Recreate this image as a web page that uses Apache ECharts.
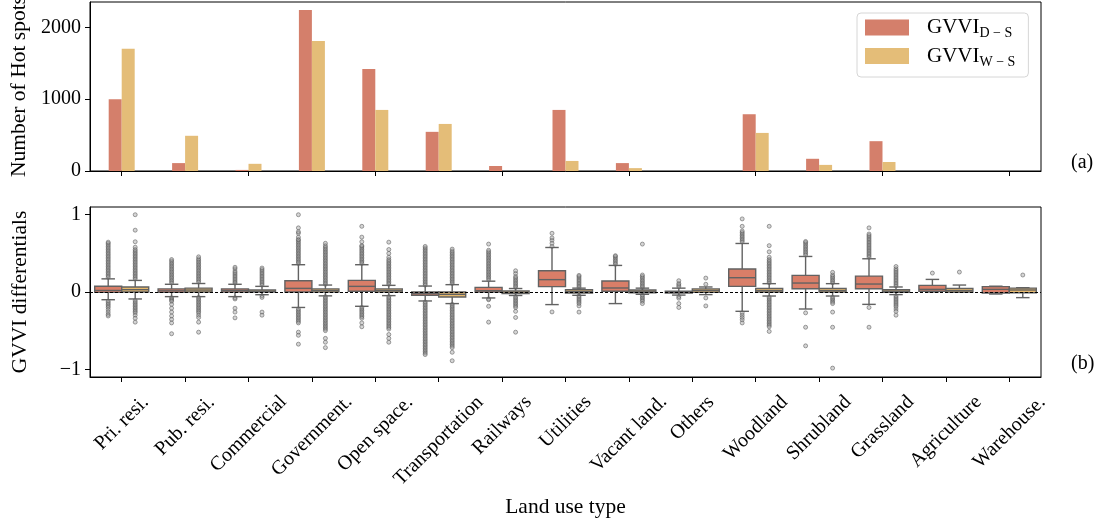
<!DOCTYPE html>
<html>
<head>
<meta charset="utf-8">
<script src="https://cdn.jsdelivr.net/npm/echarts@6/dist/echarts.min.js"></script>
<style>
    html, body { margin: 0; padding: 0; background: #fff; }
    #chart { width: 1103px; height: 524px; }
</style>
</head>
<body>
<div id="chart"></div>
<script>
const categories = ["Pri. resi.", "Pub. resi.", "Commercial", "Government.", "Open space.", "Transportation", "Railways", "Utilities", "Vacant land.", "Others", "Woodland", "Shrubland", "Grassland", "Agriculture", "Warehouse."]

// (a) number of hot spots
const hotSpotDS = [1000, 110, 15, 2240, 1420, 545, 70, 850, 110, 0, 790, 170, 415, 0, 0]
const hotSpotWS = [1700, 490, 100, 1810, 850, 655, 0, 140, 40, 0, 530, 85, 125, 0, 0]
const hotTicks = [0, 1000, 2000]

// (b) box stats: [lower whisker, Q1, median, Q3, upper whisker]
const boxDS = [
    [-0.10, -0.005, 0.02, 0.075, 0.17],
    [-0.06, -0.005, 0.015, 0.04, 0.10],
    [-0.06, 0.0, 0.02, 0.04, 0.10],
    [-0.20, 0.0, 0.047, 0.146, 0.353],
    [-0.185, 0.01, 0.073, 0.15, 0.353],
    [-0.116, -0.043, -0.02, 0.0, 0.077],
    [-0.077, 0.0, 0.017, 0.06, 0.14],
    [-0.163, 0.069, 0.16, 0.275, 0.576],
    [-0.15, 0.009, 0.052, 0.142, 0.344],
    [-0.04, -0.013, 0.0, 0.009, 0.05],
    [-0.25, 0.073, 0.185, 0.297, 0.628],
    [-0.22, 0.043, 0.116, 0.215, 0.46],
    [-0.16, 0.043, 0.103, 0.206, 0.43],
    [0.0, 0.009, 0.034, 0.086, 0.163],
    [-0.026, -0.012, 0.034, 0.069, 0.075],
]
const boxWS = [
    [-0.09, 0.0, 0.03, 0.065, 0.15],
    [-0.06, 0.0, 0.025, 0.05, 0.11],
    [-0.035, 0.0, 0.01, 0.026, 0.073],
    [-0.05, 0.0, 0.02, 0.04, 0.09],
    [-0.047, 0.0, 0.02, 0.04, 0.086],
    [-0.15, -0.065, -0.03, 0.0, 0.095],
    [-0.045, -0.02, 0.0, 0.015, 0.045],
    [-0.043, -0.013, 0.005, 0.03, 0.05],
    [-0.03, -0.009, 0.01, 0.026, 0.05],
    [-0.034, -0.004, 0.02, 0.04, 0.065],
    [-0.052, 0.0, 0.02, 0.047, 0.108],
    [-0.052, 0.0, 0.02, 0.047, 0.108],
    [-0.034, -0.004, 0.01, 0.03, 0.065],
    [0.0, 0.0, 0.02, 0.047, 0.09],
    [-0.073, -0.01, 0.026, 0.05, 0.056],
]

// outliers
const outDS = [
    [0.19, 0.21, 0.23, 0.25, 0.27, 0.29, 0.31, 0.33, 0.35, 0.37, 0.39, 0.41, 0.43, 0.45, 0.47, 0.49, 0.51, 0.53, 0.55, 0.57, 0.59, 0.61, 0.63, 0.645, -0.12, -0.14, -0.16, -0.18, -0.2, -0.23, -0.26, -0.29, -0.31],
    [0.12, 0.14, 0.16, 0.18, 0.2, 0.22, 0.24, 0.26, 0.28, 0.3, 0.32, 0.34, 0.36, 0.38, 0.4, 0.42, -0.075, -0.09, -0.105, -0.12, -0.16, -0.21, -0.26, -0.31, -0.355, -0.4, -0.54],
    [0.115, 0.13, 0.15, 0.17, 0.19, 0.21, 0.23, 0.25, 0.27, 0.3, 0.32, -0.075, -0.09, -0.21, -0.26, -0.335],
    [0.37, 0.39, 0.41, 0.43, 0.45, 0.47, 0.49, 0.51, 0.53, 0.55, 0.57, 0.59, 0.61, 0.63, 0.65, 0.67, 0.68, 0.71, 0.76, 0.78, 0.83, 1.0, -0.22, -0.24, -0.26, -0.28, -0.3, -0.32, -0.34, -0.36, -0.38, -0.4, -0.52, -0.56, -0.675],
    [0.37, 0.39, 0.41, 0.43, 0.45, 0.47, 0.49, 0.51, 0.53, 0.55, 0.57, 0.59, 0.6, 0.65, 0.71, 0.85, -0.2, -0.22, -0.24, -0.26, -0.28, -0.3, -0.32, -0.34, -0.4, -0.45],
    [0.09, 0.11, 0.13, 0.15, 0.17, 0.19, 0.21, 0.23, 0.25, 0.27, 0.29, 0.31, 0.33, 0.35, 0.37, 0.39, 0.41, 0.43, 0.45, 0.47, 0.49, 0.51, 0.53, 0.55, 0.57, 0.59,
     -0.13, -0.15, -0.17, -0.19, -0.21, -0.23, -0.25, -0.27, -0.29, -0.31, -0.33, -0.35, -0.37, -0.39, -0.41, -0.43, -0.45, -0.47, -0.49, -0.51, -0.53, -0.55, -0.57, -0.59, -0.61, -0.63, -0.65, -0.67, -0.69, -0.71, -0.73, -0.75, -0.77, -0.79, -0.81],
    [0.16, 0.18, 0.2, 0.22, 0.24, 0.26, 0.28, 0.3, 0.32, 0.34, 0.36, 0.38, 0.4, 0.42, 0.44, 0.46, 0.48, 0.5, 0.52, 0.54, 0.62, -0.09, -0.1, -0.185, -0.39],
    [0.59, 0.63, 0.67, 0.7, 0.76, -0.258],
    [0.36, 0.38, 0.4, 0.42, 0.44, 0.46, 0.47],
    [0.07, 0.09, 0.11, 0.146, -0.06, -0.08, -0.15, -0.2],
    [0.65, 0.67, 0.69, 0.71, 0.73, 0.75, 0.77, 0.79, 0.85, 0.946, -0.27, -0.3, -0.33, -0.36, -0.4],
    [0.48, 0.5, 0.52, 0.54, 0.56, 0.58, 0.6, 0.62, 0.64, 0.654, -0.27, -0.456, -0.697],
    [0.45, 0.47, 0.49, 0.51, 0.53, 0.55, 0.57, 0.59, 0.61, 0.63, 0.65, 0.67, 0.69, 0.71, 0.73, 0.75, 0.83, -0.2, -0.456],
    [0.245],
    [],
]
const outWS = [
    [0.17, 0.19, 0.21, 0.23, 0.25, 0.27, 0.29, 0.31, 0.33, 0.35, 0.37, 0.39, 0.41, 0.43, 0.45, 0.47, 0.49, 0.51, 0.53, 0.55, 0.58, 0.65, 0.8, 1.0, -0.11, -0.13, -0.15, -0.17, -0.19, -0.21, -0.23, -0.25, -0.27, -0.3, -0.34, -0.39],
    [0.13, 0.15, 0.17, 0.19, 0.21, 0.23, 0.25, 0.27, 0.29, 0.31, 0.33, 0.35, 0.37, 0.39, 0.41, 0.43, 0.455, -0.07, -0.09, -0.11, -0.13, -0.15, -0.17, -0.19, -0.21, -0.23, -0.25, -0.27, -0.3, -0.33, -0.39, -0.52],
    [0.09, 0.11, 0.13, 0.15, 0.17, 0.19, 0.21, 0.23, 0.25, 0.27, 0.29, 0.31, -0.05, -0.07, -0.26, -0.3],
    [0.1, 0.12, 0.14, 0.16, 0.18, 0.2, 0.22, 0.24, 0.26, 0.28, 0.3, 0.32, 0.34, 0.36, 0.38, 0.4, 0.42, 0.44, 0.46, 0.48, 0.5, 0.52, 0.54, 0.56, 0.58, 0.6, 0.63,
     -0.06, -0.08, -0.1, -0.12, -0.14, -0.16, -0.18, -0.2, -0.22, -0.24, -0.26, -0.28, -0.3, -0.32, -0.34, -0.36, -0.38, -0.4, -0.42, -0.44, -0.46, -0.48, -0.5, -0.6, -0.65, -0.72],
    [0.1, 0.12, 0.14, 0.16, 0.18, 0.2, 0.22, 0.24, 0.26, 0.28, 0.3, 0.32, 0.34, 0.36, 0.38, 0.4, 0.42, 0.45, 0.5, 0.55, 0.645,
     -0.06, -0.08, -0.1, -0.12, -0.14, -0.16, -0.18, -0.2, -0.22, -0.24, -0.26, -0.28, -0.3, -0.32, -0.34, -0.36, -0.38, -0.4, -0.42, -0.44, -0.46, -0.48, -0.55, -0.6, -0.65],
    [0.11, 0.13, 0.15, 0.17, 0.19, 0.21, 0.23, 0.25, 0.27, 0.29, 0.31, 0.33, 0.35, 0.37, 0.39, 0.41, 0.43, 0.45, 0.47, 0.49, 0.51, 0.53, 0.555,
     -0.16, -0.18, -0.2, -0.22, -0.24, -0.26, -0.28, -0.3, -0.32, -0.34, -0.36, -0.38, -0.4, -0.42, -0.44, -0.46, -0.48, -0.5, -0.52, -0.54, -0.56, -0.58, -0.6, -0.62, -0.64, -0.66, -0.68, -0.7, -0.72, -0.78, -0.89],
    [0.06, 0.08, 0.1, 0.12, 0.14, 0.16, 0.18, 0.2, 0.24, 0.275, -0.06, -0.08, -0.1, -0.12, -0.14, -0.16, -0.18, -0.2, -0.25, -0.33, -0.52],
    [0.06, 0.08, 0.1, 0.12, 0.14, 0.16, 0.18, 0.2, 0.215, -0.05, -0.07, -0.09, -0.11, -0.13, -0.15, -0.18, -0.26],
    [0.06, 0.08, 0.1, 0.12, 0.14, 0.16, 0.18, 0.2, 0.22, 0.62, -0.04, -0.06, -0.08, -0.1, -0.12, -0.15],
    [0.1, 0.18, -0.077, -0.18],
    [0.12, 0.14, 0.16, 0.18, 0.2, 0.22, 0.24, 0.26, 0.28, 0.3, 0.32, 0.34, 0.36, 0.38, 0.4, 0.42, 0.45, 0.52, 0.6, 0.85,
     -0.07, -0.09, -0.11, -0.13, -0.15, -0.17, -0.19, -0.21, -0.23, -0.25, -0.27, -0.29, -0.31, -0.33, -0.35, -0.37, -0.39, -0.41, -0.43, -0.45, -0.51],
    [0.12, 0.14, 0.16, 0.18, 0.2, 0.22, 0.254, -0.07, -0.09, -0.11, -0.13, -0.15, -0.26, -0.456, -0.985],
    [0.08, 0.1, 0.12, 0.14, 0.16, 0.18, 0.2, 0.22, 0.24, 0.26, 0.28, 0.3, 0.33, -0.05, -0.07, -0.09, -0.11, -0.13, -0.15, -0.17, -0.19, -0.22, -0.25, -0.3],
    [0.258],
    [0.22],
]
const diffTicks = [-1, 0, 1]

const FONT = '"Liberation Serif", "Times New Roman", serif'
const colorDS = "#d47f6b"
const colorWS = "#e4bd78"
const boxColorDS = "#d97e68"
const boxColorWS = "#e7b96c"
const EDGE = "#626262"
const nameDS = "GVVI D-S"
const nameWS = "GVVI W-S"

// matplotlib-style rotated labels: centre the rotated box under the tick
const measure = document.createElement("canvas").getContext("2d")
measure.font = "20px " + FONT
const labelRich = {}
categories.forEach((c, i) => {
    const w = measure.measureText(c).width
    const p = Math.round((w + 20) / 2)
    labelRich["c" + i] = { fontSize: 20, lineHeight: 20, fontFamily: FONT, color: "#000", padding: [p, p, 0, 0] }
})

// the two boxes of a category sit side by side around the tick
const BOX_W = 27
const BOX_SHIFT = 13.5
const BAND = 951 / categories.length
function flierPoints(list, sign) {
    const pts = []
    list.forEach((vals, i) => {
        vals.forEach(v => pts.push([i + sign * BOX_SHIFT / BAND, v]))
    })
    return pts
}

// seaborn-like box: half-width caps on the whiskers
function boxRenderer(shift, fill) {
    return function (params, api) {
        const i = api.value(0)
        const x = api.coord([i, 0])[0] + shift
        const y = k => api.coord([i, api.value(k)])[1]
        const yLo = y(1), yQ1 = y(2), yMed = y(3), yQ3 = y(4), yHi = y(5)
        const hw = BOX_W / 2
        const cw = BOX_W / 4
        const line = { stroke: EDGE, lineWidth: 1.4 }
        return {
            type: "group",
            children: [
                { type: "line", shape: { x1: x, y1: yQ3, x2: x, y2: yHi }, style: line },
                { type: "line", shape: { x1: x, y1: yQ1, x2: x, y2: yLo }, style: line },
                { type: "line", shape: { x1: x - cw, y1: yHi, x2: x + cw, y2: yHi }, style: line },
                { type: "line", shape: { x1: x - cw, y1: yLo, x2: x + cw, y2: yLo }, style: line },
                { type: "rect", shape: { x: x - hw, y: yQ3, width: BOX_W, height: yQ1 - yQ3 }, style: { fill: fill, stroke: EDGE, lineWidth: 1.4 } },
                { type: "line", shape: { x1: x - hw, y1: yMed, x2: x + hw, y2: yMed }, style: line },
            ],
        }
    }
}

const chart = echarts.init(document.getElementById("chart"))

const axisLineStyle = { onZero: false, lineStyle: { color: "#000", width: 1 } }
const tickStyle = { show: true, length: 5, lineStyle: { color: "#000", width: 1 } }
const flierStyle = { color: "rgba(150,150,150,0.5)", borderColor: "rgba(85,85,85,0.85)", borderWidth: 0.8 }

let option = {
    animation: false,
    backgroundColor: "#fff",
    textStyle: { fontFamily: FONT },
    title: [
        { text: "(a)", left: 1071, top: 153, padding: 0, textStyle: { fontSize: 20, fontWeight: "normal", fontFamily: FONT, color: "#000" } },
        { text: "(b)", left: 1071, top: 354, padding: 0, textStyle: { fontSize: 20, fontWeight: "normal", fontFamily: FONT, color: "#000" } },
    ],
    legend: {
        orient: "vertical",
        left: 857,
        top: 13,
        padding: [4, 13, 8, 8],
        itemWidth: 44,
        itemHeight: 16,
        itemGap: 5,
        borderColor: "#d6d6d6",
        borderWidth: 1,
        borderRadius: 4,
        backgroundColor: "#fff",
        data: [
            { name: nameDS, icon: "rect", itemStyle: { color: colorDS } },
            { name: nameWS, icon: "rect", itemStyle: { color: colorWS } },
        ],
        formatter: name => name === nameDS ? "{a|GVVI}{b|D − S}" : "{a|GVVI}{b|W − S}",
        textStyle: {
            rich: {
                a: { fontSize: 21, lineHeight: 26, fontFamily: FONT, color: "#000", padding: [0, 0, 0, 13] },
                b: { fontSize: 14, lineHeight: 14, fontFamily: FONT, color: "#000", verticalAlign: "bottom" },
            },
        },
    },
    grid: [
        { left: 90, right: 62, top: 2, height: 169, show: true, borderColor: "#000", borderWidth: 1, containLabel: false, outerBoundsMode: "none" },
        { left: 90, right: 62, top: 207, height: 170, show: true, borderColor: "#000", borderWidth: 1, containLabel: false, outerBoundsMode: "none" },
    ],
    xAxis: [
        {
            gridIndex: 0,
            type: "category",
            data: categories,
            axisLine: axisLineStyle,
            axisTick: Object.assign({ alignWithLabel: true }, tickStyle),
            axisLabel: { show: false },
        },
        {
            gridIndex: 1,
            type: "category",
            data: categories,
            name: "Land use type",
            nameLocation: "middle",
            nameGap: 119,
            nameTextStyle: { fontSize: 21.5, fontFamily: FONT, color: "#000" },
            axisLine: axisLineStyle,
            axisTick: Object.assign({ alignWithLabel: true }, tickStyle),
            axisLabel: {
                interval: 0,
                rotate: 45,
                margin: 15,
                align: "center",
                verticalAlign: "middle",
                formatter: (value, index) => "{c" + index + "|" + value + "}",
                rich: labelRich,
            },
        },
        {
            gridIndex: 1,
            type: "value",
            min: -0.5,
            max: categories.length - 0.5,
            show: false,
        },
    ],
    yAxis: [
        {
            gridIndex: 0,
            type: "value",
            min: 0,
            max: 2352,
            name: "Number of Hot spots",
            nameLocation: "middle",
            nameGap: 59,
            nameTextStyle: { fontSize: 21.5, fontFamily: FONT, color: "#000" },
            axisLine: { show: true, onZero: false, lineStyle: { color: "#000", width: 1 } },
            axisTick: Object.assign({ customValues: hotTicks }, tickStyle),
            axisLabel: { customValues: hotTicks, fontSize: 20, fontFamily: FONT, color: "#000", margin: 9, formatter: v => String(v) },
            splitLine: { show: false },
        },
        {
            gridIndex: 1,
            type: "value",
            min: -1.1,
            max: 1.1,
            name: "GVVI differentials",
            nameLocation: "middle",
            nameGap: 59,
            nameTextStyle: { fontSize: 21.5, fontFamily: FONT, color: "#000" },
            axisLine: { show: true, onZero: false, lineStyle: { color: "#000", width: 1 } },
            axisTick: Object.assign({ customValues: diffTicks }, tickStyle),
            axisLabel: {
                customValues: diffTicks,
                fontSize: 20,
                fontFamily: FONT,
                color: "#000",
                margin: 9,
                formatter: v => String(v).replace("-", "−"),
            },
            splitLine: { show: false },
        },
    ],
    series: [
        {
            name: nameDS,
            type: "bar",
            xAxisIndex: 0,
            yAxisIndex: 0,
            data: hotSpotDS,
            barWidth: 13,
            barGap: "0%",
            itemStyle: { color: colorDS },
        },
        {
            name: nameWS,
            type: "bar",
            xAxisIndex: 0,
            yAxisIndex: 0,
            data: hotSpotWS,
            barWidth: 13,
            barGap: "0%",
            itemStyle: { color: colorWS },
        },
        {
            name: nameDS,
            type: "scatter",
            xAxisIndex: 2,
            yAxisIndex: 1,
            data: flierPoints(outDS, -1),
            symbol: "circle",
            symbolSize: 4,
            z: 1,
            itemStyle: flierStyle,
        },
        {
            name: nameWS,
            type: "scatter",
            xAxisIndex: 2,
            yAxisIndex: 1,
            data: flierPoints(outWS, 1),
            symbol: "circle",
            symbolSize: 4,
            z: 1,
            itemStyle: flierStyle,
        },
        {
            name: nameDS,
            type: "custom",
            xAxisIndex: 1,
            yAxisIndex: 1,
            data: boxDS.map((b, i) => [i].concat(b)),
            encode: { x: 0, y: [1, 2, 3, 4, 5] },
            renderItem: boxRenderer(-BOX_SHIFT, boxColorDS),
            z: 3,
        },
        {
            name: nameWS,
            type: "custom",
            xAxisIndex: 1,
            yAxisIndex: 1,
            data: boxWS.map((b, i) => [i].concat(b)),
            encode: { x: 0, y: [1, 2, 3, 4, 5] },
            renderItem: boxRenderer(BOX_SHIFT, boxColorWS),
            z: 3,
            markLine: {
                silent: true,
                symbol: "none",
                label: { show: false },
                lineStyle: { color: "#000", type: [3, 2], width: 1 },
                data: [{ yAxis: 0 }],
            },
        },
    ],
}

chart.setOption(option)
</script>
</body>
</html>
